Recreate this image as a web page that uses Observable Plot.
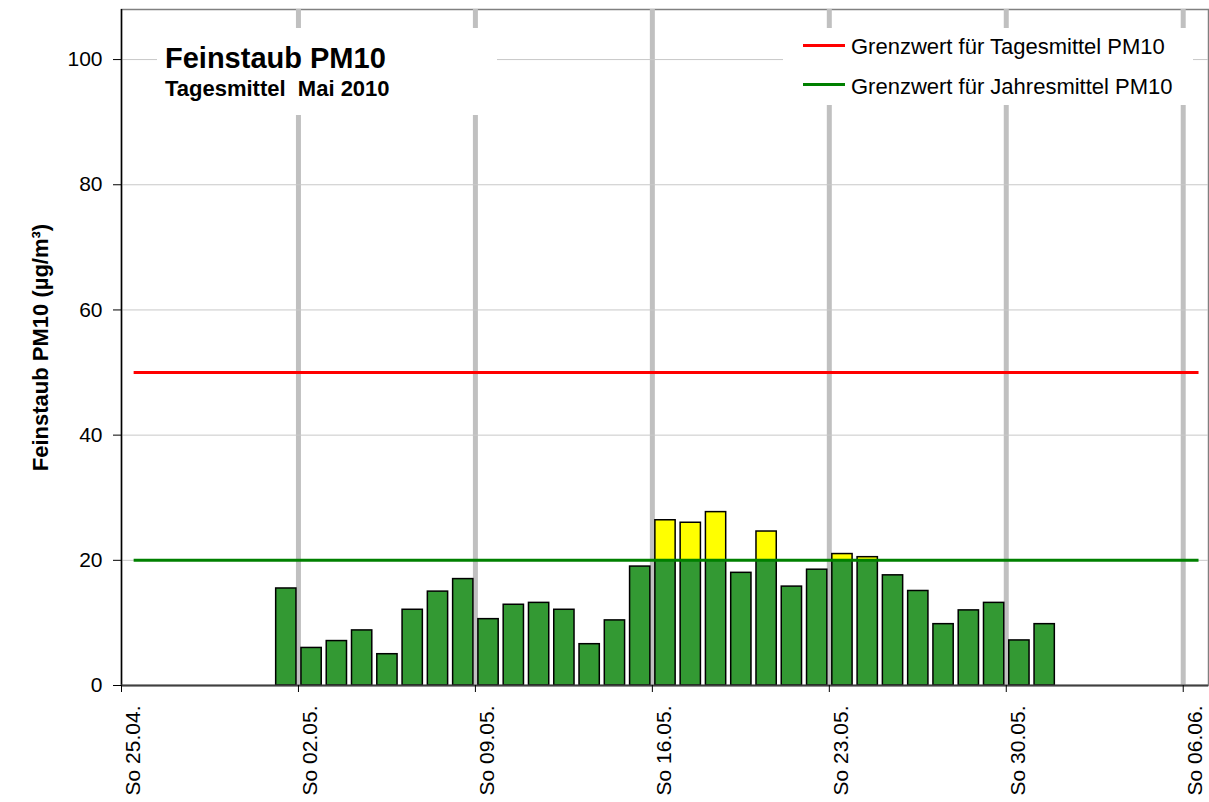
<!DOCTYPE html>
<html>
<head>
<meta charset="utf-8">
<script src="https://cdn.jsdelivr.net/npm/d3@7"></script>
<script src="https://cdn.jsdelivr.net/npm/@observablehq/plot@0.6"></script>
<style>
  body { margin: 0; background: #fff; font-family: "Liberation Sans", Arial, sans-serif; }
  #wrap { position: relative; width: 1209px; height: 802px; }
  .box { position: absolute; background: #fff; }
  .t { position: absolute; white-space: pre; color: #000; }
  .sw { position: absolute; height: 3px; }
</style>
</head>
<body>
<div id="wrap">
  <div id="chart"></div>
  <div class="box" style="left:157px;top:28px;width:340px;height:87px;">
    <div class="t" style="left:8px;top:15.5px;font-size:29px;line-height:29px;font-weight:bold;">Feinstaub PM10</div>
    <div class="t" style="left:8px;top:50.4px;font-size:22px;line-height:22px;font-weight:bold;">Tagesmittel  Mai 2010</div>
  </div>
  <div class="box" id="legend" style="left:783px;top:28px;width:410px;height:77px;"></div>
</div>
<script>
// ---- data ----
const days = ["2010-05-01","2010-05-02","2010-05-03","2010-05-04","2010-05-05","2010-05-06","2010-05-07","2010-05-08","2010-05-09","2010-05-10","2010-05-11","2010-05-12","2010-05-13","2010-05-14","2010-05-15","2010-05-16","2010-05-17","2010-05-18","2010-05-19","2010-05-20","2010-05-21","2010-05-22","2010-05-23","2010-05-24","2010-05-25","2010-05-26","2010-05-27","2010-05-28","2010-05-29","2010-05-30","2010-05-31"];
const pm10 = [15.5, 6.0, 7.1, 8.8, 5.0, 12.1, 15.0, 17.0, 10.6, 12.9, 13.2, 12.1, 6.6, 10.4, 19.0, 26.4, 26.0, 27.7, 18.0, 24.6, 15.8, 18.5, 21.0, 20.5, 17.6, 15.1, 9.8, 12.0, 13.2, 7.2, 9.8];
const sundays = ["2010-04-25","2010-05-02","2010-05-09","2010-05-16","2010-05-23","2010-05-30","2010-06-06"];
const xDomain = ["2010-04-25","2010-06-07"];
const yTicks = [0, 20, 40, 60, 80, 100];
const limitDaily = 50;
const limitAnnual = 20;
const limitSpan = ["2010-04-25T12:00","2010-06-06T15:00"];
const legendItems = ["Grenzwert für Tagesmittel PM10", "Grenzwert für Jahresmittel PM10"];
const legendColors = ["#ff0000", "#008000"];

// ---- build ----
const D = s => new Date(s + (s.length === 10 ? "T00:00Z" : "Z"));
const DAY = 864e5;
const rows = days.map((d, i) => ({date: D(d), end: new Date(D(d).getTime() + DAY), v: pm10[i]}));
const sun = sundays.map(D);
const x0 = D(xDomain[0]), x1 = D(xDomain[1]);
const fmt = d => "So " + String(d.getUTCDate()).padStart(2, "0") + "." + String(d.getUTCMonth() + 1).padStart(2, "0") + ".";

const chart = Plot.plot({
  width: 1209,
  height: 802,
  marginLeft: 121,
  marginRight: 1,
  marginTop: 9,
  marginBottom: 117,
  style: {fontFamily: "'Liberation Sans', Arial, sans-serif", background: "#fff", color: "#000"},
  x: {type: "utc", domain: [x0, x1]},
  y: {domain: [0, 108]},
  marks: [
    Plot.frame({stroke: "#808080", strokeWidth: 1.5}),
    Plot.ruleX(sun.slice(1), {stroke: "#c0c0c0", strokeWidth: 5}),
    Plot.ruleY(yTicks.slice(1), {stroke: "#c8c8c8", strokeWidth: 1}),
    Plot.rectY(rows, {x1: "date", x2: "end", y1: 0, y2: d => Math.min(d.v, limitAnnual), fill: "#339933", stroke: "#000", strokeWidth: 1.5, insetLeft: 3, insetRight: 2}),
    Plot.rectY(rows.filter(d => d.v > limitAnnual), {x1: "date", x2: "end", y1: limitAnnual, y2: "v", fill: "#ffff00", stroke: "#000", strokeWidth: 1.5, insetLeft: 3, insetRight: 2}),
    Plot.ruleY([limitAnnual], {x1: D(limitSpan[0]), x2: D(limitSpan[1]), stroke: "#008000", strokeWidth: 3}),
    Plot.ruleY([limitDaily], {x1: D(limitSpan[0]), x2: D(limitSpan[1]), stroke: "#ff0000", strokeWidth: 3}),
    Plot.ruleX([x0], {stroke: "#000", strokeWidth: 1.5}),
    Plot.ruleY([0], {stroke: "#404040", strokeWidth: 2}),
    Plot.axisY({ticks: yTicks, tickSize: 8, tickPadding: 11, fontSize: 21, label: null, stroke: "#000"}),
    Plot.axisX({ticks: sun, tickFormat: () => "", tickSize: 7, label: null, stroke: "#000"}),
    Plot.axisX({ticks: sun, tickFormat: fmt, tickRotate: -90, tickSize: 0, tickPadding: 20, dx: 12, fontSize: 21, label: null}),
    Plot.text(["Feinstaub PM10 (µg/m³)"], {frameAnchor: "left", textAnchor: "middle", rotate: -90, dx: -81, fontWeight: "bold", fontSize: 22})
  ]
});
document.getElementById("chart").appendChild(chart);

// legend
const lg = document.getElementById("legend");
legendItems.forEach((txt, i) => {
  const sw = document.createElement("div");
  sw.className = "sw";
  sw.style.left = "20px";
  sw.style.width = "42px";
  sw.style.top = (16 + i * 39) + "px";
  sw.style.background = legendColors[i];
  lg.appendChild(sw);
  const t = document.createElement("div");
  t.className = "t";
  t.style.left = "68px";
  t.style.top = (8.4 + i * 40) + "px";
  t.style.fontSize = "22px";
  t.style.lineHeight = "22px";
  t.textContent = txt;
  lg.appendChild(t);
});
</script>
</body>
</html>
